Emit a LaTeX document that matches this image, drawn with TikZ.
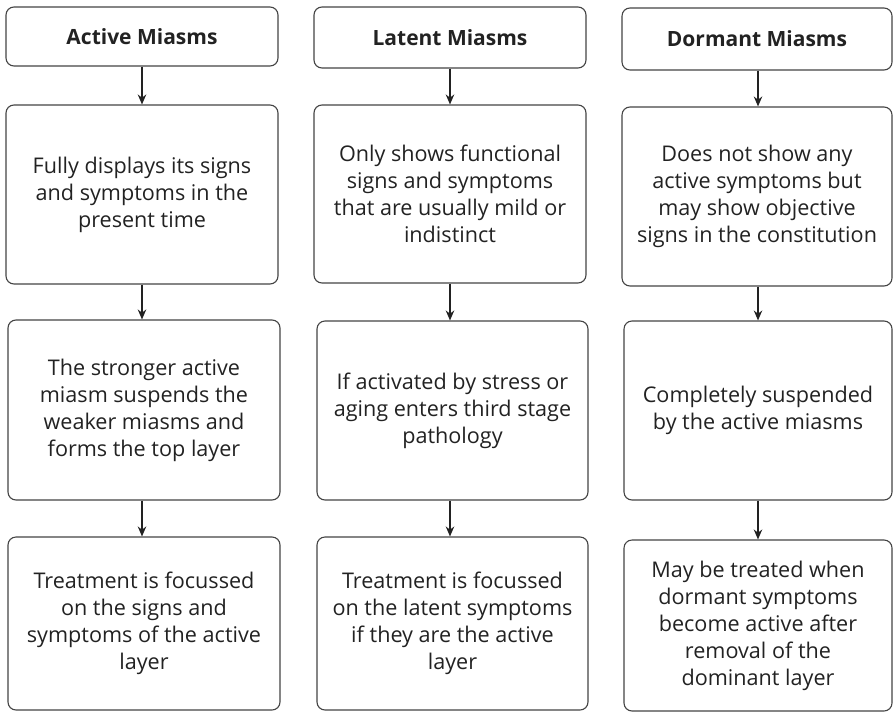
\documentclass[tikz,border=0pt]{standalone}
\usepackage{fontspec}
\setmainfont{Open Sans}
\usetikzlibrary{arrows.meta}
\definecolor{txt}{HTML}{222222}
\definecolor{edge}{HTML}{444444}
\tikzset{
  x=1pt, y=-1pt,
  box/.style={draw=edge, line width=1.1pt, rounded corners=8pt, align=center,
    text=txt, inner sep=0pt, font=\fontsize{21.6}{27}\selectfont},
  hdr/.style={box, font=\bfseries\fontsize{21}{24}\selectfont},
  conn/.style={draw=txt, line width=1.3pt, -{Stealth[length=10pt,width=8.5pt]}},
}
\newcommand{\bx}[6]{% name, x1, y1, x2, y2, text
  \node[box, minimum width={#4-#2}, minimum height={#5-#3}] (#1) at ({(#2+#4)/2},{(#3+#5)/2}) {#6};}
\begin{document}
\begin{tikzpicture}
\useasboundingbox (0,0) rectangle (893,712);
\coordinate (xa) at (142,0);
\coordinate (xb) at (450,0);
\coordinate (xc) at (758,0);
% column 1
\node[hdr, minimum width=272, minimum height=59] (a0) at (142,36.5) {Active Miasms};
\bx{a1}{6}{105}{278}{284}{Fully displays its signs\\and symptoms in the\\present time}
\bx{a2}{8}{320}{280}{500}{The stronger active\\miasm suspends the\\weaker miasms and\\forms the top layer}
\bx{a3}{8}{537}{280}{710}{Treatment is focussed\\on the signs and\\symptoms of the active\\layer}
% column 2
\node[hdr, minimum width=272, minimum height=61] (b0) at (450,37.5) {Latent Miasms};
\bx{b1}{314}{105}{586}{283}{Only shows functional\\signs and symptoms\\that are usually mild or\\indistinct}
\bx{b2}{317}{321}{588}{500}{If activated by stress or\\aging enters third stage\\pathology}
\bx{b3}{317}{537}{588}{710}{Treatment is focussed\\on the latent symptoms\\if they are the active\\layer}
% column 3
\node[hdr, minimum width=270, minimum height=62] (c0) at (757,39) {Dormant Miasms};
\bx{c1}{622}{107}{892}{286}{Does not show any\\active symptoms but\\may show objective\\signs in the constitution}
\bx{c2}{624}{321}{892}{500}{Completely suspended\\by the active miasms}
\bx{c3}{624}{540}{892}{711}{May be treated when\\dormant symptoms\\become active after\\removal of the\\dominant layer}
% connectors
\foreach \p/\q/\c in {a0/a1/xa,a1/a2/xa,a2/a3/xa,b0/b1/xb,b1/b2/xb,b2/b3/xb,c0/c1/xc,c1/c2/xc,c2/c3/xc}
  \draw[conn] (\c |- \p.south) -- (\c |- \q.north);
\end{tikzpicture}
\end{document}
